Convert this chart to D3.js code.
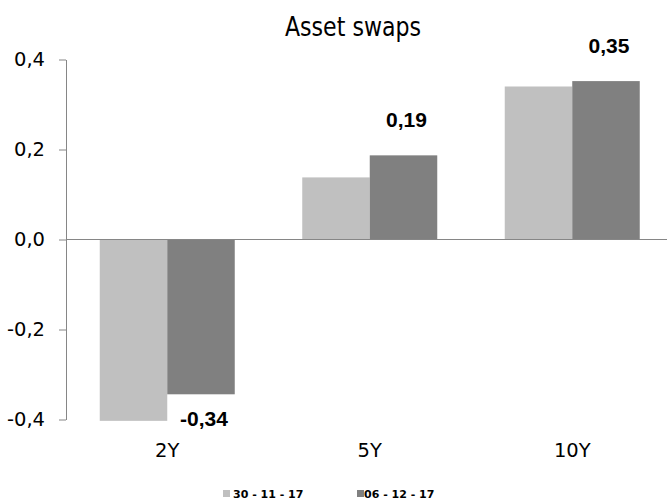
<!DOCTYPE html>
<html>
<head>
<meta charset="utf-8">
<script src="https://cdn.jsdelivr.net/npm/d3@7"></script>
<style>
  body { margin: 0; background: #fff; }
  #chart-container { width: 667px; height: 501px; }
</style>
</head>
<body>
<div id="chart-container"></div>
<script>
const categories = ["2Y", "5Y", "10Y"];
const seriesNames = ["30 - 11 - 17", "06 - 12 - 17"];
const nov30 = [-0.403, 0.138, 0.340];
const dec06 = [-0.344, 0.187, 0.352];
const yTicks = [-0.4, -0.2, 0.0, 0.2, 0.4];
const colors = ["#c0c0c0", "#808080"];

const W = 667, H = 501;
const svg = d3.select("#chart-container")
  .append("svg")
  .attr("width", W)
  .attr("height", H);

const fmt = v => d3.format(".1f")(v).replace(".", ",").replace("−", "-");
const fmt2 = v => d3.format(".2f")(v).replace(".", ",").replace("−", "-");

const x0 = d3.scaleBand().domain(categories).range([66, 673.5]).padding(0);
const x1 = d3.scaleBand().domain(seriesNames).range([0, x0.bandwidth()]).paddingInner(0).paddingOuter(0.5);
const y = d3.scaleLinear().domain([-0.4, 0.4]).range([419.5, 59.5]);

// title (horizontally squeezed to mimic a narrower face)
svg.append("text")
  .attr("transform", "translate(353,36) scale(0.85,1)")
  .attr("text-anchor", "middle")
  .style("font-family", "DejaVu Sans")
  .style("font-size", "26px")
  .attr("fill", "#000")
  .text("Asset swaps");

// y axis
const yAxis = svg.append("g")
  .attr("transform", "translate(66,0)")
  .call(d3.axisLeft(y).tickValues(yTicks).tickFormat(fmt).tickSize(7).tickSizeOuter(0).tickPadding(14));
yAxis.select(".domain").attr("stroke", "#868686");
yAxis.selectAll(".tick line").attr("stroke", "#868686");
yAxis.selectAll("text")
  .style("font-family", "DejaVu Sans")
  .style("font-size", "19.5px")
  .attr("fill", "#000");

// bars
const rows = categories.map((c, i) => ({ cat: c, vals: [nov30[i], dec06[i]] }));
const groups = svg.append("g").selectAll("g")
  .data(rows).join("g")
  .attr("transform", d => `translate(${x0(d.cat)},0)`);

groups.selectAll("rect")
  .data(d => d.vals.map((v, j) => ({ s: seriesNames[j], v, j })))
  .join("rect")
  .attr("x", d => x1(d.s))
  .attr("width", x1.bandwidth())
  .attr("y", d => y(Math.max(0, d.v)))
  .attr("height", d => Math.abs(y(d.v) - y(0)))
  .attr("fill", d => colors[d.j]);

// zero line
svg.append("line")
  .attr("x1", 66).attr("x2", W)
  .attr("y1", y(0)).attr("y2", y(0))
  .attr("stroke", "#868686");

// value labels (second series)
groups.append("text")
  .attr("x", d => x1(seriesNames[1]) + x1.bandwidth() / 2 + 3)
  .attr("y", d => d.vals[1] >= 0 ? y(d.vals[1]) - 28 : y(d.vals[1]) + 32)
  .attr("text-anchor", "middle")
  .style("font-family", "Liberation Sans")
  .style("font-weight", "bold")
  .style("font-size", "21px")
  .attr("fill", "#000")
  .text(d => fmt2(d.vals[1]));

// category axis
const xAxis = svg.append("g")
  .attr("transform", "translate(0,420)")
  .call(d3.axisBottom(x0).tickSize(0).tickPadding(23));
xAxis.select(".domain").remove();
xAxis.selectAll("text")
  .style("font-family", "DejaVu Sans")
  .style("font-size", "19.5px")
  .attr("fill", "#000");

// legend
const legendX = [223, 357];
const legend = svg.append("g").selectAll("g")
  .data(seriesNames).join("g")
  .attr("transform", (d, i) => `translate(${legendX[i]},490)`);
legend.append("rect")
  .attr("width", 7).attr("height", 7)
  .attr("fill", (d, i) => colors[i]);
legend.append("text")
  .attr("x", (d, i) => i === 0 ? 10 : 7)
  .attr("y", 7.5)
  .style("font-family", "DejaVu Sans")
  .style("font-weight", "bold")
  .style("font-size", "11px")
  .attr("fill", "#000")
  .text(d => d);
</script>
</body>
</html>
